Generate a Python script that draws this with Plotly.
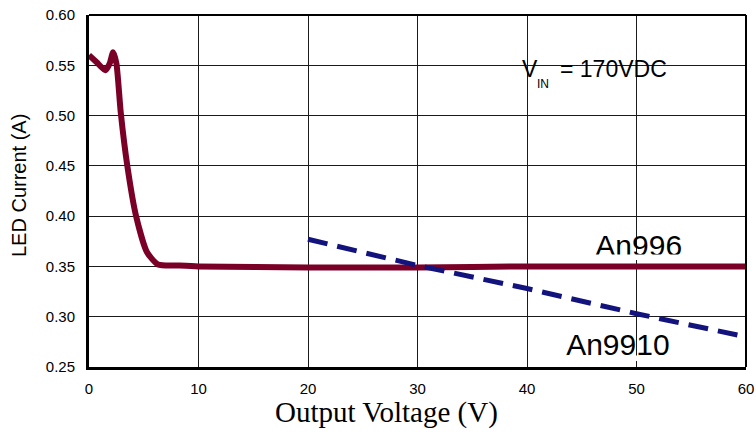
import plotly.graph_objects as go

# An996 measured curve
an996_v = [0, 0.7, 1.5, 1.9, 2.2, 2.5, 2.9, 3.5, 4.3, 5.3, 6.3, 8, 10, 20, 30, 40, 50, 60]
an996_i = [0.560, 0.553, 0.545, 0.552, 0.563, 0.552, 0.503, 0.450, 0.400, 0.364, 0.352, 0.351, 0.350, 0.349, 0.349, 0.350, 0.350, 0.350]

# An9910 curve
an9910_v = [20, 30, 40, 50, 60]
an9910_i = [0.377, 0.351, 0.328, 0.303, 0.280]

x_ticks = [0, 10, 20, 30, 40, 50, 60]
y_ticks = [0.25, 0.30, 0.35, 0.40, 0.45, 0.50, 0.55, 0.60]

series_labels = ["An996", "An9910"]
label_v = [50.2, 48.3]
label_i = [0.368, 0.269]

W, H = 756, 436
L, R, T, B = 89, 10, 15, 69
PW, PH = W - L - R, H - T - B


def px(xs):
    return (xs - L) / PW


def py(ys):
    return (H - B - ys) / PH


ARIAL = "Arial, Liberation Sans"

fig = go.Figure()
fig.add_trace(go.Scatter(x=an996_v, y=an996_i, mode="lines",
                         line=dict(color="#7a0028", width=6, shape="spline", smoothing=0.6),
                         showlegend=False, hoverinfo="skip"))
fig.add_trace(go.Scatter(x=an9910_v, y=an9910_i, mode="lines",
                         line=dict(color="#13137e", width=5, dash="20px,10px"),
                         showlegend=False, hoverinfo="skip"))
fig.add_trace(go.Scatter(x=label_v, y=label_i, mode="text", text=series_labels,
                         textposition="middle center",
                         textfont=dict(family=ARIAL, size=30, color="black"),
                         showlegend=False, hoverinfo="skip"))

# white boxes behind the labels (hide gridlines)
for x0, x1, y0, y1 in [(590, 687, 230, 255), (557, 679, 330, 356), (506, 676, 43, 90)]:
    fig.add_shape(type="rect", xref="paper", yref="paper", x0=px(x0), x1=px(x1), y0=py(y1), y1=py(y0),
                  fillcolor="white", line_width=0, layer="between")
# clip the bottom of the label glyphs like the original
for x0, x1, y0, y1 in [(590, 687, 254.5, 260), (557, 679, 355.5, 361)]:
    fig.add_shape(type="rect", xref="paper", yref="paper", x0=px(x0), x1=px(x1), y0=py(y1), y1=py(y0),
                  fillcolor="white", line_width=0, layer="above")

# top/right frame
fig.add_shape(type="line", xref="paper", yref="paper", x0=0, x1=1, y0=1, y1=1,
              line=dict(color="black", width=2), layer="above")
fig.add_shape(type="line", xref="paper", yref="paper", x0=1, x1=1, y0=0, y1=1,
              line=dict(color="black", width=2), layer="above")

# V_IN = 170VDC, built from pieces
fig.add_annotation(xref="paper", yref="paper", x=px(520.5), y=py(69.5), text="V",
                   showarrow=False, xanchor="left", yanchor="middle", borderpad=0,
                   font=dict(family=ARIAL, size=23, color="black"))
fig.add_annotation(xref="paper", yref="paper", x=px(536), y=py(83.5), text="IN",
                   showarrow=False, xanchor="left", yanchor="middle", borderpad=0,
                   font=dict(family=ARIAL, size=12, color="black"))
fig.add_annotation(xref="paper", yref="paper", x=px(559), y=py(69.5), text="= 170VDC",
                   showarrow=False, xanchor="left", yanchor="middle", borderpad=0,
                   font=dict(family=ARIAL, size=23, color="black"))

fig.add_annotation(xref="paper", yref="paper", x=px(386.5), y=py(412), text="Output Voltage (V)",
                   showarrow=False, xanchor="center", yanchor="middle",
                   font=dict(family="Times New Roman, Liberation Serif", size=29, color="black"))
fig.add_annotation(xref="paper", yref="paper", x=px(19), y=py(186), text="LED Current (A)",
                   showarrow=False, textangle=-90, xanchor="center", yanchor="middle",
                   font=dict(family=ARIAL, size=20, color="black"))

axis_common = dict(showgrid=True, gridcolor="#1a1a1a", gridwidth=1,
                   showline=True, linecolor="black", linewidth=3, mirror=False,
                   ticks="", zeroline=False, automargin=False, ticklabeloverflow="allow",
                   tickfont=dict(family=ARIAL, size=15, color="black"))

fig.update_xaxes(range=[0, 60], tickvals=x_ticks, ticktext=[str(v) for v in x_ticks],
                 ticklabelstandoff=6, **axis_common)
fig.update_yaxes(range=[0.25, 0.60], tickvals=y_ticks, ticktext=[f"{v:.2f}" for v in y_ticks],
                 ticklabelstandoff=8, **axis_common)

fig.update_layout(width=W, height=H, margin=dict(l=L, r=R, t=T, b=B),
                  plot_bgcolor="white", paper_bgcolor="white")

fig.write_html("out.html", config={"displayModeBar": False},
               post_script="document.body.style.margin='0';document.body.style.padding='0';")
